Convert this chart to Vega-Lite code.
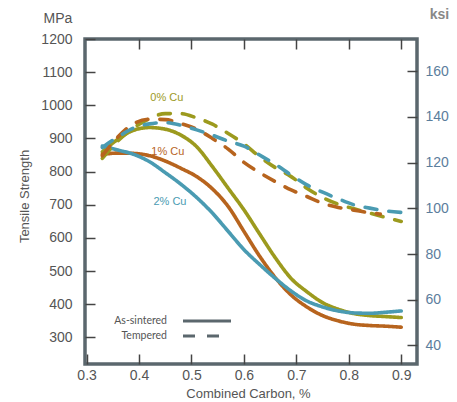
{
  "$schema": "https://vega.github.io/schema/vega-lite/v6.json",
  "width": 332,
  "height": 325,
  "autosize": {"type": "none"},
  "padding": {"left": 85, "top": 39, "right": 40, "bottom": 38},
  "background": "white",
  "datasets": {
    "curves": [
      {"carbon": 0.33, "mpa": 860, "cu": "0% Cu", "cond": "As-sintered"},
      {"carbon": 0.36, "mpa": 898, "cu": "0% Cu", "cond": "As-sintered"},
      {"carbon": 0.39, "mpa": 925, "cu": "0% Cu", "cond": "As-sintered"},
      {"carbon": 0.42, "mpa": 933, "cu": "0% Cu", "cond": "As-sintered"},
      {"carbon": 0.45, "mpa": 928, "cu": "0% Cu", "cond": "As-sintered"},
      {"carbon": 0.48, "mpa": 910, "cu": "0% Cu", "cond": "As-sintered"},
      {"carbon": 0.51, "mpa": 875, "cu": "0% Cu", "cond": "As-sintered"},
      {"carbon": 0.54, "mpa": 815, "cu": "0% Cu", "cond": "As-sintered"},
      {"carbon": 0.57, "mpa": 750, "cu": "0% Cu", "cond": "As-sintered"},
      {"carbon": 0.60, "mpa": 685, "cu": "0% Cu", "cond": "As-sintered"},
      {"carbon": 0.63, "mpa": 612, "cu": "0% Cu", "cond": "As-sintered"},
      {"carbon": 0.66, "mpa": 540, "cu": "0% Cu", "cond": "As-sintered"},
      {"carbon": 0.69, "mpa": 478, "cu": "0% Cu", "cond": "As-sintered"},
      {"carbon": 0.72, "mpa": 438, "cu": "0% Cu", "cond": "As-sintered"},
      {"carbon": 0.75, "mpa": 405, "cu": "0% Cu", "cond": "As-sintered"},
      {"carbon": 0.78, "mpa": 385, "cu": "0% Cu", "cond": "As-sintered"},
      {"carbon": 0.81, "mpa": 372, "cu": "0% Cu", "cond": "As-sintered"},
      {"carbon": 0.84, "mpa": 366, "cu": "0% Cu", "cond": "As-sintered"},
      {"carbon": 0.87, "mpa": 363, "cu": "0% Cu", "cond": "As-sintered"},
      {"carbon": 0.90, "mpa": 360, "cu": "0% Cu", "cond": "As-sintered"},

      {"carbon": 0.33, "mpa": 852, "cu": "1% Cu", "cond": "As-sintered"},
      {"carbon": 0.36, "mpa": 856, "cu": "1% Cu", "cond": "As-sintered"},
      {"carbon": 0.39, "mpa": 855, "cu": "1% Cu", "cond": "As-sintered"},
      {"carbon": 0.42, "mpa": 848, "cu": "1% Cu", "cond": "As-sintered"},
      {"carbon": 0.45, "mpa": 832, "cu": "1% Cu", "cond": "As-sintered"},
      {"carbon": 0.48, "mpa": 810, "cu": "1% Cu", "cond": "As-sintered"},
      {"carbon": 0.51, "mpa": 785, "cu": "1% Cu", "cond": "As-sintered"},
      {"carbon": 0.54, "mpa": 748, "cu": "1% Cu", "cond": "As-sintered"},
      {"carbon": 0.57, "mpa": 695, "cu": "1% Cu", "cond": "As-sintered"},
      {"carbon": 0.60, "mpa": 620, "cu": "1% Cu", "cond": "As-sintered"},
      {"carbon": 0.63, "mpa": 545, "cu": "1% Cu", "cond": "As-sintered"},
      {"carbon": 0.66, "mpa": 480, "cu": "1% Cu", "cond": "As-sintered"},
      {"carbon": 0.69, "mpa": 428, "cu": "1% Cu", "cond": "As-sintered"},
      {"carbon": 0.72, "mpa": 392, "cu": "1% Cu", "cond": "As-sintered"},
      {"carbon": 0.75, "mpa": 366, "cu": "1% Cu", "cond": "As-sintered"},
      {"carbon": 0.78, "mpa": 350, "cu": "1% Cu", "cond": "As-sintered"},
      {"carbon": 0.81, "mpa": 340, "cu": "1% Cu", "cond": "As-sintered"},
      {"carbon": 0.84, "mpa": 336, "cu": "1% Cu", "cond": "As-sintered"},
      {"carbon": 0.87, "mpa": 334, "cu": "1% Cu", "cond": "As-sintered"},
      {"carbon": 0.90, "mpa": 331, "cu": "1% Cu", "cond": "As-sintered"},

      {"carbon": 0.33, "mpa": 877, "cu": "2% Cu", "cond": "As-sintered"},
      {"carbon": 0.36, "mpa": 865, "cu": "2% Cu", "cond": "As-sintered"},
      {"carbon": 0.39, "mpa": 852, "cu": "2% Cu", "cond": "As-sintered"},
      {"carbon": 0.42, "mpa": 830, "cu": "2% Cu", "cond": "As-sintered"},
      {"carbon": 0.45, "mpa": 797, "cu": "2% Cu", "cond": "As-sintered"},
      {"carbon": 0.48, "mpa": 762, "cu": "2% Cu", "cond": "As-sintered"},
      {"carbon": 0.51, "mpa": 722, "cu": "2% Cu", "cond": "As-sintered"},
      {"carbon": 0.54, "mpa": 675, "cu": "2% Cu", "cond": "As-sintered"},
      {"carbon": 0.57, "mpa": 620, "cu": "2% Cu", "cond": "As-sintered"},
      {"carbon": 0.60, "mpa": 565, "cu": "2% Cu", "cond": "As-sintered"},
      {"carbon": 0.63, "mpa": 520, "cu": "2% Cu", "cond": "As-sintered"},
      {"carbon": 0.66, "mpa": 478, "cu": "2% Cu", "cond": "As-sintered"},
      {"carbon": 0.69, "mpa": 440, "cu": "2% Cu", "cond": "As-sintered"},
      {"carbon": 0.72, "mpa": 410, "cu": "2% Cu", "cond": "As-sintered"},
      {"carbon": 0.75, "mpa": 392, "cu": "2% Cu", "cond": "As-sintered"},
      {"carbon": 0.78, "mpa": 380, "cu": "2% Cu", "cond": "As-sintered"},
      {"carbon": 0.81, "mpa": 374, "cu": "2% Cu", "cond": "As-sintered"},
      {"carbon": 0.84, "mpa": 373, "cu": "2% Cu", "cond": "As-sintered"},
      {"carbon": 0.87, "mpa": 376, "cu": "2% Cu", "cond": "As-sintered"},
      {"carbon": 0.90, "mpa": 380, "cu": "2% Cu", "cond": "As-sintered"},

      {"carbon": 0.33, "mpa": 840, "cu": "0% Cu", "cond": "Tempered"},
      {"carbon": 0.36, "mpa": 893, "cu": "0% Cu", "cond": "Tempered"},
      {"carbon": 0.39, "mpa": 932, "cu": "0% Cu", "cond": "Tempered"},
      {"carbon": 0.42, "mpa": 960, "cu": "0% Cu", "cond": "Tempered"},
      {"carbon": 0.45, "mpa": 975, "cu": "0% Cu", "cond": "Tempered"},
      {"carbon": 0.48, "mpa": 975, "cu": "0% Cu", "cond": "Tempered"},
      {"carbon": 0.51, "mpa": 962, "cu": "0% Cu", "cond": "Tempered"},
      {"carbon": 0.54, "mpa": 943, "cu": "0% Cu", "cond": "Tempered"},
      {"carbon": 0.57, "mpa": 915, "cu": "0% Cu", "cond": "Tempered"},
      {"carbon": 0.60, "mpa": 884, "cu": "0% Cu", "cond": "Tempered"},
      {"carbon": 0.63, "mpa": 845, "cu": "0% Cu", "cond": "Tempered"},
      {"carbon": 0.66, "mpa": 812, "cu": "0% Cu", "cond": "Tempered"},
      {"carbon": 0.69, "mpa": 785, "cu": "0% Cu", "cond": "Tempered"},
      {"carbon": 0.72, "mpa": 750, "cu": "0% Cu", "cond": "Tempered"},
      {"carbon": 0.75, "mpa": 722, "cu": "0% Cu", "cond": "Tempered"},
      {"carbon": 0.78, "mpa": 702, "cu": "0% Cu", "cond": "Tempered"},
      {"carbon": 0.81, "mpa": 688, "cu": "0% Cu", "cond": "Tempered"},
      {"carbon": 0.84, "mpa": 675, "cu": "0% Cu", "cond": "Tempered"},
      {"carbon": 0.87, "mpa": 662, "cu": "0% Cu", "cond": "Tempered"},
      {"carbon": 0.90, "mpa": 650, "cu": "0% Cu", "cond": "Tempered"},

      {"carbon": 0.33, "mpa": 848, "cu": "1% Cu", "cond": "Tempered"},
      {"carbon": 0.36, "mpa": 905, "cu": "1% Cu", "cond": "Tempered"},
      {"carbon": 0.39, "mpa": 945, "cu": "1% Cu", "cond": "Tempered"},
      {"carbon": 0.42, "mpa": 958, "cu": "1% Cu", "cond": "Tempered"},
      {"carbon": 0.45, "mpa": 957, "cu": "1% Cu", "cond": "Tempered"},
      {"carbon": 0.48, "mpa": 945, "cu": "1% Cu", "cond": "Tempered"},
      {"carbon": 0.51, "mpa": 928, "cu": "1% Cu", "cond": "Tempered"},
      {"carbon": 0.54, "mpa": 900, "cu": "1% Cu", "cond": "Tempered"},
      {"carbon": 0.57, "mpa": 868, "cu": "1% Cu", "cond": "Tempered"},
      {"carbon": 0.60, "mpa": 828, "cu": "1% Cu", "cond": "Tempered"},
      {"carbon": 0.63, "mpa": 797, "cu": "1% Cu", "cond": "Tempered"},
      {"carbon": 0.66, "mpa": 770, "cu": "1% Cu", "cond": "Tempered"},
      {"carbon": 0.69, "mpa": 745, "cu": "1% Cu", "cond": "Tempered"},
      {"carbon": 0.72, "mpa": 725, "cu": "1% Cu", "cond": "Tempered"},
      {"carbon": 0.75, "mpa": 705, "cu": "1% Cu", "cond": "Tempered"},
      {"carbon": 0.78, "mpa": 692, "cu": "1% Cu", "cond": "Tempered"},
      {"carbon": 0.81, "mpa": 684, "cu": "1% Cu", "cond": "Tempered"},
      {"carbon": 0.84, "mpa": 676, "cu": "1% Cu", "cond": "Tempered"},
      {"carbon": 0.86, "mpa": 672, "cu": "1% Cu", "cond": "Tempered"},

      {"carbon": 0.33, "mpa": 873, "cu": "2% Cu", "cond": "Tempered"},
      {"carbon": 0.36, "mpa": 905, "cu": "2% Cu", "cond": "Tempered"},
      {"carbon": 0.39, "mpa": 932, "cu": "2% Cu", "cond": "Tempered"},
      {"carbon": 0.42, "mpa": 944, "cu": "2% Cu", "cond": "Tempered"},
      {"carbon": 0.45, "mpa": 948, "cu": "2% Cu", "cond": "Tempered"},
      {"carbon": 0.48, "mpa": 940, "cu": "2% Cu", "cond": "Tempered"},
      {"carbon": 0.51, "mpa": 926, "cu": "2% Cu", "cond": "Tempered"},
      {"carbon": 0.54, "mpa": 910, "cu": "2% Cu", "cond": "Tempered"},
      {"carbon": 0.57, "mpa": 892, "cu": "2% Cu", "cond": "Tempered"},
      {"carbon": 0.60, "mpa": 877, "cu": "2% Cu", "cond": "Tempered"},
      {"carbon": 0.63, "mpa": 850, "cu": "2% Cu", "cond": "Tempered"},
      {"carbon": 0.66, "mpa": 822, "cu": "2% Cu", "cond": "Tempered"},
      {"carbon": 0.69, "mpa": 790, "cu": "2% Cu", "cond": "Tempered"},
      {"carbon": 0.72, "mpa": 760, "cu": "2% Cu", "cond": "Tempered"},
      {"carbon": 0.75, "mpa": 738, "cu": "2% Cu", "cond": "Tempered"},
      {"carbon": 0.78, "mpa": 718, "cu": "2% Cu", "cond": "Tempered"},
      {"carbon": 0.81, "mpa": 700, "cu": "2% Cu", "cond": "Tempered"},
      {"carbon": 0.84, "mpa": 690, "cu": "2% Cu", "cond": "Tempered"},
      {"carbon": 0.87, "mpa": 682, "cu": "2% Cu", "cond": "Tempered"},
      {"carbon": 0.90, "mpa": 677, "cu": "2% Cu", "cond": "Tempered"}
    ],
    "labels": [
      {"carbon": 0.453, "mpa": 1021, "cu": "0% Cu", "label": "0% Cu"},
      {"carbon": 0.455, "mpa": 858, "cu": "1% Cu", "label": "1% Cu"},
      {"carbon": 0.459, "mpa": 707, "cu": "2% Cu", "label": "2% Cu"}
    ],
    "ksi": [
      {"carbon": 0.6, "ksi": 40},
      {"carbon": 0.6, "ksi": 160}
    ]
  },
  "layer": [
    {
      "layer": [
        {
          "data": {"name": "curves"},
          "mark": {"type": "line", "interpolate": "monotone", "strokeWidth": 3.6, "strokeCap": "round"},
          "encoding": {
            "x": {
              "field": "carbon", "type": "quantitative",
              "scale": {"domain": [0.297, 0.93], "nice": false, "zero": false},
              "axis": {"orient": "bottom", "values": [0.3, 0.4, 0.5, 0.6, 0.7, 0.8, 0.9], "tickCount": 20, "format": ".1f", "labelOverlap": false, "tickSize": -10, "labelPadding": 14, "labelFontSize": 14, "labelColor": "#555555", "title": "Combined Carbon, %", "titleFontSize": 13, "titleColor": "#555555", "titleFontWeight": "normal", "titleX": 163, "titleY": 33, "titleBaseline": "alphabetic", "titleAlign": "center"}
            },
            "y": {
              "field": "mpa", "type": "quantitative",
              "scale": {"domain": [220, 1200], "nice": false, "zero": false},
              "axis": {"orient": "left", "values": [300, 400, 500, 600, 700, 800, 900, 1000, 1100, 1200], "tickCount": 20, "format": "d", "labelOverlap": false, "tickSize": -10, "labelPadding": 23, "labelFontSize": 14, "labelColor": "#555555", "title": "Tensile Strength", "titleFontSize": 13, "titleColor": "#555555", "titleFontWeight": "normal", "titleX": -61, "titleY": 157, "titleAngle": -90, "titleAlign": "center", "titleBaseline": "middle"}
            },
            "color": {
              "field": "cu", "type": "nominal",
              "scale": {"domain": ["0% Cu", "1% Cu", "2% Cu"], "range": ["#9c9a1e", "#b7641e", "#4a9bb2"]},
              "legend": null
            },
            "strokeDash": {
              "field": "cond", "type": "nominal",
              "scale": {"domain": ["As-sintered", "Tempered"], "range": [[1, 0], [12, 12]]},
              "legend": {
                "orient": "none", "legendX": 114.5, "legendY": 274.5, "title": null,
                "symbolType": "M-4,0H4", "symbolSize": 144, "symbolStrokeWidth": 3,
                "labelAlign": "right", "labelOffset": -47.5, "labelFontSize": 10.5, "labelColor": "#555555", "labelFont": "Lato",
                "rowPadding": 1, "padding": 0,
                "encode": {"symbols": {"update": {"stroke": {"value": "#5b676d"}, "strokeDash": [{"test": "datum.value === 'Tempered'", "value": [14, 19]}, {"value": [1, 0]}]}}}
              }
            }
          }
        },
        {
          "data": {"name": "labels"},
          "mark": {"type": "text", "fontSize": 11, "font": "Liberation Sans"},
          "encoding": {
            "x": {"field": "carbon", "type": "quantitative"},
            "y": {"field": "mpa", "type": "quantitative"},
            "text": {"field": "label"},
            "color": {"field": "cu", "type": "nominal", "legend": null}
          }
        }
      ]
    },
    {
      "data": {"name": "ksi"},
      "mark": {"type": "point", "opacity": 0},
      "encoding": {
        "x": {
          "field": "carbon", "type": "quantitative",
          "axis": {"orient": "top", "values": [0.4, 0.5, 0.6, 0.7, 0.8, 0.9], "tickCount": 20, "labels": false, "tickSize": -10, "title": "MPa", "titleFontSize": 14, "titleColor": "#555555", "titleFontWeight": "normal", "titleAngle": 0, "titleX": -42, "titleY": -17, "titleAlign": "left", "titleBaseline": "alphabetic"}
        },
        "y": {
          "field": "ksi", "type": "quantitative",
          "scale": {"domain": [31.9, 174.04], "nice": false, "zero": false},
          "axis": {"orient": "right", "values": [40, 60, 80, 100, 120, 140, 160], "tickCount": 20, "labelOverlap": false, "tickSize": -10, "labelPadding": 18, "labelFontSize": 14, "labelColor": "#5b7d9c", "title": "ksi", "titleFontSize": 14, "titleColor": "#888888", "titleFontWeight": "bold", "titleAngle": 0, "titleX": 22, "titleY": -21, "titleAlign": "center", "titleBaseline": "alphabetic"}
        }
      }
    }
  ],
  "resolve": {"scale": {"y": "independent"}, "axis": {"x": "independent", "y": "independent"}},
  "config": {
    "view": {"stroke": "#5b676d", "strokeWidth": 3.5},
    "axis": {"labelFont": "Liberation Sans", "titleFont": "Liberation Sans", "domain": false, "grid": false, "tickColor": "#444444", "tickWidth": 1.5}
  }
}
